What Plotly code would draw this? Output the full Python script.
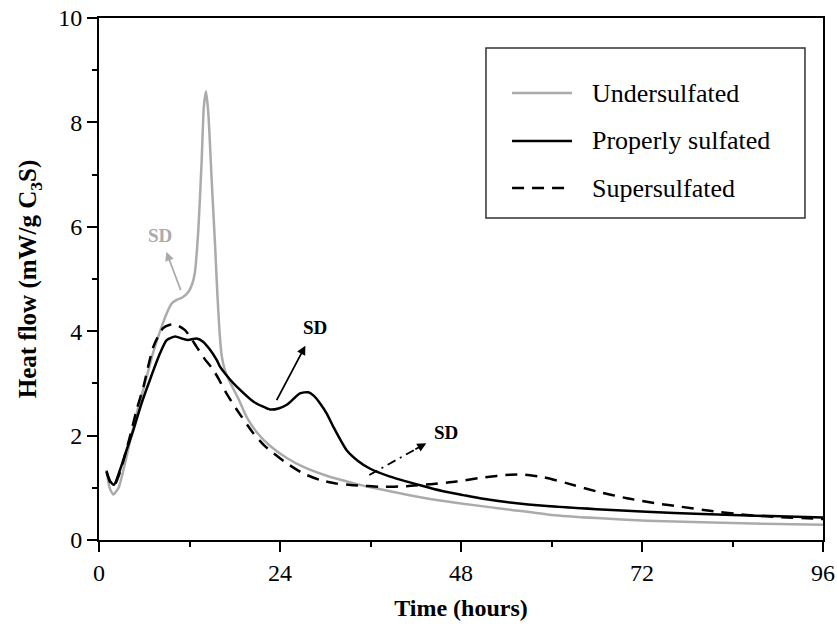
import plotly.graph_objects as go

# ---------------- data ----------------
t_under = [1.0, 1.4, 1.9, 2.6, 3.5, 4.55, 5.6, 5.9, 7.2, 8.1, 8.97, 9.64, 10.3, 11.0, 11.8,
           12.3, 12.7, 13.17, 13.6, 13.9, 14.19, 14.5, 14.94, 15.4, 15.7, 16.0, 16.3, 16.7,
           17.2, 17.8, 18.5, 19.6, 21.0, 22.7, 24.9, 27.1, 30.0, 33.7, 37.0, 42.6, 48.0, 54.5,
           60.0, 66.0, 72.6, 80.0, 88.0, 96.0]
v_under = [1.34, 1.0, 0.87, 1.0, 1.5, 2.17, 2.75, 2.9, 3.6, 4.0, 4.34, 4.53, 4.6, 4.64, 4.74,
           4.88, 5.11, 5.94, 7.22, 8.3, 8.59, 8.17, 6.9, 5.62, 4.7, 3.95, 3.5, 3.25,
           3.07, 2.9, 2.7, 2.35, 2.05, 1.8, 1.57, 1.40, 1.24, 1.09, 0.98, 0.82, 0.70, 0.58,
           0.48, 0.42, 0.37, 0.34, 0.31, 0.29]

t_prop = [1.0, 1.5, 2.0, 2.78, 3.6, 4.55, 5.6, 6.76, 8.1, 8.97, 10.1, 11.0, 11.8, 12.95,
          13.8, 14.7, 15.6, 16.04, 17.4, 18.26, 20.5, 22.7, 23.8, 24.9, 26.65, 27.75, 28.5,
          29.3, 30.2, 31.07, 32.84, 34.3, 35.9, 38.5, 42.6, 45.5, 48.3, 50.5, 54.5, 59.4,
          66.0, 72.6, 80.0, 86.0, 96.0]
v_prop = [1.3, 1.12, 1.06, 1.34, 1.7, 2.1, 2.6, 3.07, 3.58, 3.83, 3.9, 3.86, 3.83, 3.86,
          3.8, 3.65, 3.45, 3.32, 3.07, 2.94, 2.65, 2.5, 2.52, 2.59, 2.81, 2.83, 2.76,
          2.62, 2.42, 2.17, 1.72, 1.52, 1.37, 1.22, 1.05, 0.94, 0.86, 0.8, 0.72, 0.65,
          0.59, 0.54, 0.5, 0.47, 0.43]

t_super = [1.0, 1.5, 2.0, 2.78, 3.3, 4.1, 5.0, 5.9, 7.2, 8.5, 9.3, 10.1, 11.4, 12.95, 14.0,
           15.15, 16.0, 16.9, 18.3, 20.5, 22.0, 24.9, 27.0, 29.3, 31.5, 33.7, 37.5, 40.8,
           44.0, 47.4, 51.0, 54.5, 56.5, 59.0, 62.0, 66.0, 70.0, 74.0, 77.0, 81.0, 85.9,
           90.0, 94.7, 96.0]
v_super = [1.32, 1.1, 1.04, 1.3, 1.55, 1.98, 2.5, 2.94, 3.70, 4.06, 4.12, 4.13, 4.02, 3.70,
           3.47, 3.26, 3.05, 2.81, 2.49, 2.04, 1.8, 1.47, 1.28, 1.15, 1.08, 1.05, 1.02, 1.03,
           1.07, 1.12, 1.2, 1.25, 1.25, 1.2, 1.09, 0.93, 0.8, 0.7, 0.64, 0.56, 0.48,
           0.44, 0.41, 0.4]

series_names = ["Undersulfated", "Properly sulfated", "Supersulfated"]
x_ticks = [0, 24, 48, 72, 96]
y_ticks = [0, 2, 4, 6, 8, 10]

# SD annotations: (text x, text y, arrow tail x, tail y)
sd_gray = (8.09, 5.84, 10.83, 4.79)
sd_prop = (28.64, 4.07, 23.56, 2.68)
# dash-dot arrow: text, solid-arrow end point, dash-dot tail
sd_super = (46.0, 2.06, 41.95, 1.737, 35.84, 1.245)

GRAY = "#ababab"
SERIF = "Liberation Serif, Times New Roman, serif"

fig = go.Figure()
fig.add_trace(go.Scatter(x=t_under, y=v_under, mode="lines", name=series_names[0],
                         line=dict(color=GRAY, width=2.5, shape="spline", smoothing=0.5)))
fig.add_trace(go.Scatter(x=t_prop, y=v_prop, mode="lines", name=series_names[1],
                         line=dict(color="black", width=2.5, shape="spline", smoothing=0.6)))
fig.add_trace(go.Scatter(x=t_super, y=v_super, mode="lines", name=series_names[2],
                         line=dict(color="black", width=2.5, dash="12px,8px",
                                   shape="spline", smoothing=0.6)))

annotations = []
shapes = []


def sd_note(tx, ty, px, py, color, sstand):
    # text "SD" at (tx,ty); arrow runs from the curve point (px,py) to the text,
    # arrowhead at the text end
    return dict(x=px, y=py, ax=tx, ay=ty, axref="x", ayref="y", xref="x", yref="y",
                text="<b>SD</b>", showarrow=True, arrowside="start", startarrowhead=2,
                startarrowsize=1, arrowwidth=1.8, arrowcolor=color, standoff=0,
                startstandoff=sstand, font=dict(family=SERIF, size=19, color=color))


annotations.append(sd_note(sd_gray[0], sd_gray[1], sd_gray[2], sd_gray[3], GRAY, 5))
annotations.append(sd_note(sd_prop[0], sd_prop[1], sd_prop[2], sd_prop[3], "black", 7))
annotations.append(sd_note(sd_super[0], sd_super[1], sd_super[2], sd_super[3], "black", 7))
shapes.append(dict(type="line", xref="x", yref="y", x0=sd_super[4], y0=sd_super[5],
                   x1=sd_super[2], y1=sd_super[3],
                   line=dict(color="black", width=1.8, dash="9px,5px,2px,5px")))

# manual legend (paper coordinates)
shapes.append(dict(type="rect", xref="paper", yref="paper", x0=0.5345, x1=0.9751,
                   y0=0.6169, y1=0.9425, line=dict(color="#333333", width=1.5),
                   fillcolor="white", layer="above"))
leg_y = [0.8563, 0.7644, 0.6743]
leg_styles = [dict(color=GRAY, width=2.5), dict(color="black", width=2.5),
              dict(color="black", width=2.5, dash="12px,8px")]
for name, ly, st in zip(series_names, leg_y, leg_styles):
    shapes.append(dict(type="line", xref="paper", yref="paper", x0=0.5705, x1=0.6533,
                       y0=ly, y1=ly, line=st, layer="above"))
    annotations.append(dict(x=0.6782, y=ly, xref="paper", yref="paper", text=name,
                            xanchor="left", yanchor="middle", showarrow=False,
                            font=dict(family=SERIF, size=26, color="black")))

fig.update_layout(
    width=837, height=637,
    margin=dict(l=99, r=14, t=18, b=97, autoexpand=False),
    paper_bgcolor="white", plot_bgcolor="white",
    showlegend=False,
    annotations=annotations,
    shapes=shapes,
    font=dict(family=SERIF, color="black"),
)
fig.update_xaxes(
    automargin=False,
    range=[0, 96], tickvals=x_ticks, ticktext=[str(v) for v in x_ticks],
    ticks="outside", ticklen=10, tickwidth=2, tickcolor="black",
    minor=dict(dtick=12, tick0=0, ticks="outside", ticklen=5, tickwidth=2, tickcolor="black"),
    showline=True, linewidth=2, linecolor="black", mirror=True,
    showgrid=False, zeroline=False,
    tickfont=dict(family=SERIF, size=24, color="black"),
    title=dict(text="<b>Time (hours)</b>", font=dict(family=SERIF, size=24, color="black"),
               standoff=14),
)
fig.update_yaxes(
    automargin=False,
    range=[0, 10], tickvals=y_ticks, ticktext=[str(v) for v in y_ticks],
    ticks="outside", ticklen=10, tickwidth=2, tickcolor="black",
    minor=dict(dtick=1, tick0=0, ticks="outside", ticklen=5, tickwidth=2, tickcolor="black"),
    showline=True, linewidth=2, linecolor="black", mirror=True,
    showgrid=False, zeroline=False,
    tickfont=dict(family=SERIF, size=24, color="black"),
    ticklabelstandoff=0,
    title=dict(text="<b>Heat flow (mW/g C<sub>3</sub>S)</b>",
               font=dict(family=SERIF, size=25, color="black"), standoff=14),
)

fig.write_html("out.html")
